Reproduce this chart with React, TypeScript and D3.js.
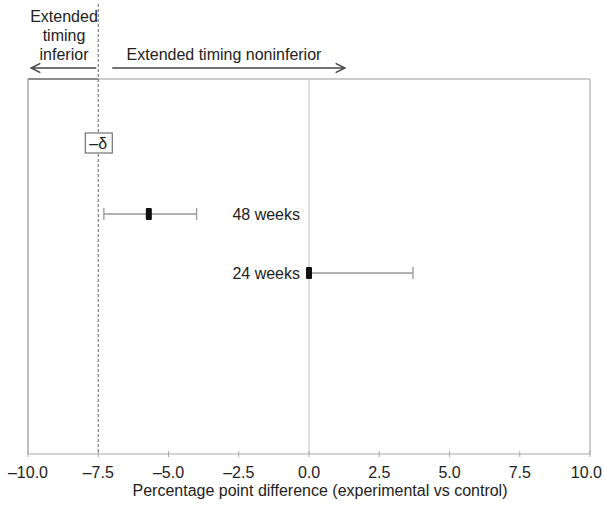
import React from "react";
import * as d3 from "d3";

// forest plot data
const labels = ["48 weeks", "24 weeks"];
const estimates = [-5.7, 0.0];
const lowerCI = [-7.3, 0.0];
const upperCI = [-4.0, 3.7];
const xTicks = [-10, -7.5, -5, -2.5, 0, 2.5, 5, 7.5, 10];
const margin = -7.5;

const W = 604;
const H = 506;

export default function App() {
  const x = d3.scaleLinear().domain([-10, 10]).range([28, 590]);
  const y = d3.scalePoint<string>().domain(labels).range([214, 273]);
  const top = 79;
  const bottom = 454;
  const deltaY = 143;
  const font = "Liberation Sans, Arial, sans-serif";
  const fmt = (v: number) => (v < 0 ? "\u2013" : "") + Math.abs(v).toFixed(1);

  return (
    <svg width={W} height={H} style={{ position: "absolute", left: 0, top: 0, background: "#fff" }} fontFamily={font}>
      <defs>
        <marker id="arr" viewBox="0 0 10 10" refX="9" refY="5" markerWidth="9" markerHeight="9" orient="auto-start-reverse">
          <path d="M1,1 L9,5 L1,9" fill="none" stroke="#444" strokeWidth="1.3" />
        </marker>
      </defs>
      {/* frame */}
      <line x1={x(-10)} x2={x(margin)} y1={top} y2={top} stroke="#666" strokeWidth={1.5} />
      <line x1={x(margin)} x2={x(10)} y1={top} y2={top} stroke="#bbb" strokeWidth={1.5} />
      <line x1={x(-10)} x2={x(-10)} y1={top} y2={bottom} stroke="#aaa" strokeWidth={1.5} />
      <line x1={x(10)} x2={x(10)} y1={top} y2={bottom} stroke="#bbb" strokeWidth={1.5} />
      <line x1={x(0)} x2={x(0)} y1={top} y2={bottom} stroke="#ccc" strokeWidth={1.2} />
      {/* axis */}
      <line x1={x(-10)} x2={x(10)} y1={bottom} y2={bottom} stroke="#aaa" strokeWidth={1.2} />
      {xTicks.map((t, i) => {
        const last = i === xTicks.length - 1;
        return (
          <g key={t}>
            <line x1={x(t)} x2={x(t)} y1={bottom - 3} y2={bottom + 3} stroke="#aaa" />
            <text
              x={last ? W - 2 : x(t)}
              y={bottom + 24}
              textAnchor={last ? "end" : "middle"}
              fontSize={16}
              fill="#222"
            >
              {fmt(t)}
            </text>
          </g>
        );
      })}
      <text x={x(0) + 11} y={bottom + 42} textAnchor="middle" fontSize={16} fill="#222">
        Percentage point difference (experimental vs control)
      </text>
      {/* noninferiority margin */}
      <line x1={x(margin)} x2={x(margin)} y1={4} y2={bottom} stroke="#666" strokeWidth={1} strokeDasharray="3,2" />
      <rect x={x(margin) - 13} y={deltaY - 10} width={27} height={20} fill="#fff" stroke="#555" />
      <text x={x(margin)} y={deltaY + 6} textAnchor="middle" fontSize={16} fill="#222">
        {"\u2013\u03b4"}
      </text>
      {/* header */}
      <g fontSize={16} fill="#222" textAnchor="middle">
        <text x={64} y={22}>Extended</text>
        <text x={64} y={41}>timing</text>
        <text x={64} y={60}>inferior</text>
        <text x={224} y={60}>Extended timing noninferior</text>
      </g>
      <line x1={x(margin) - 2} x2={31} y1={68} y2={68} stroke="#444" strokeWidth={1.3} markerEnd="url(#arr)" />
      <line x1={x(margin) + 14} x2={345} y1={68} y2={68} stroke="#444" strokeWidth={1.3} markerEnd="url(#arr)" />
      {/* estimates */}
      {labels.map((l, i) => {
        const cy = y(l)!;
        return (
          <g key={l}>
            <line x1={x(lowerCI[i])} x2={x(upperCI[i])} y1={cy} y2={cy} stroke="#999" strokeWidth={1.3} />
            <line x1={x(lowerCI[i])} x2={x(lowerCI[i])} y1={cy - 6} y2={cy + 6} stroke="#999" strokeWidth={1.3} />
            <line x1={x(upperCI[i])} x2={x(upperCI[i])} y1={cy - 6} y2={cy + 6} stroke="#999" strokeWidth={1.3} />
            <rect x={x(estimates[i]) - 3} y={cy - 6} width={6} height={12} rx={1} fill="#111" />
            <text x={300} y={cy + 6} textAnchor="end" fontSize={16} fill="#222">
              {l}
            </text>
          </g>
        );
      })}
    </svg>
  );
}
